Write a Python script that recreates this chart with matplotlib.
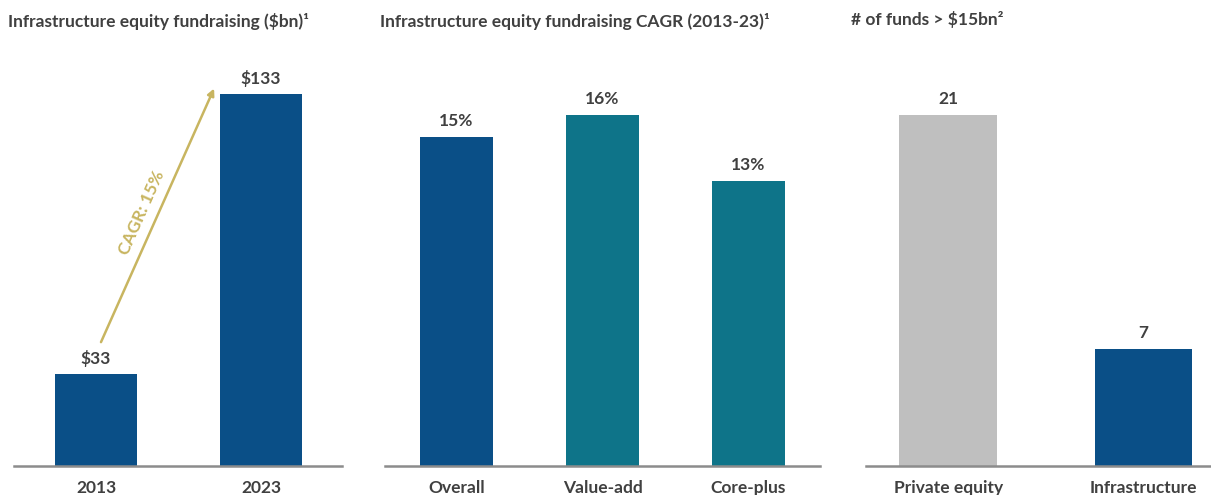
import matplotlib.pyplot as plt

plt.rcParams['font.family'] = ['Lato', 'DejaVu Sans']

# data
years = ["2013", "2023"]
fundraising = [33, 133]
fund_labels = ["$33", "$133"]

strategies = ["Overall", "Value-add", "Core-plus"]
cagr = [15, 16, 13]

fund_types = ["Private equity", "Infrastructure"]
n_funds = [21, 7]

BLUE = "#0A4F87"
TEAL = "#0E7489"
GREY = "#BFBFBF"
GOLD = "#C8B560"
TXT = "#404040"

W, H = 1211, 495
fig = plt.figure(figsize=(W / 100, H / 100), dpi=100)


def add_ax(x0, x1):
    bottom = (H - 466) / H
    height = (466 - 60) / H
    return fig.add_axes([x0 / W, bottom, (x1 - x0) / W, height])


def style(ax, labels):
    for s in ["top", "right", "left"]:
        ax.spines[s].set_visible(False)
    ax.spines["bottom"].set_color("#8C8C8C")
    ax.spines["bottom"].set_linewidth(1.8)
    ax.set_yticks([])
    ax.set_xticks(range(len(labels)))
    ax.set_xticklabels(labels, fontsize=12.5, fontweight="bold", color=TXT)
    ax.tick_params(axis="x", length=0, pad=10)


# panel 1
ax1 = add_ax(14, 342)
ax1.bar(range(2), fundraising, width=0.5, color=BLUE)
ax1.set_xlim(-0.497, 1.49)
ax1.set_ylim(0, 145.2)
style(ax1, years)
for i, v in enumerate(fundraising):
    ax1.text(i, v + 2.5, fund_labels[i], ha="center", va="bottom",
             fontsize=12.5, fontweight="bold", color=TXT)
ax1.annotate("", xy=(0.715, 135), xytext=(0.03, 44.3),
             arrowprops=dict(arrowstyle="-|>", color=GOLD, lw=1.8,
                             mutation_scale=10, shrinkA=0, shrinkB=0),
             annotation_clip=False)
ax1.text(0.28, 90.5, "CAGR: 15%", rotation=66, rotation_mode="anchor",
         ha="center", va="center", fontsize=12.5, fontweight="bold", color=GOLD)

# panel 2
ax2 = add_ax(385, 820)
ax2.bar(range(3), cagr, width=0.5, color=[BLUE, TEAL, TEAL])
ax2.set_xlim(-0.49, 2.49)
ax2.set_ylim(0, 18.5)
style(ax2, strategies)
for i, v in enumerate(cagr):
    ax2.text(i, v + 0.35, f"{v}%", ha="center", va="bottom",
             fontsize=12.5, fontweight="bold", color=TXT)

# panel 3
ax3 = add_ax(866, 1211)
ax3.bar(range(2), n_funds, width=0.5, color=[GREY, BLUE])
ax3.set_xlim(-0.42, 1.345)
ax3.set_ylim(0, 24.3)
style(ax3, fund_types)
for i, v in enumerate(n_funds):
    ax3.text(i, v + 0.5, str(v), ha="center", va="bottom",
             fontsize=12.5, fontweight="bold", color=TXT)

# titles
fig.text(8 / W, 1 - 22 / H, "Infrastructure equity fundraising ($bn)\u00b9",
         fontsize=12.5, fontweight="bold", color=TXT, va="center")
fig.text(380 / W, 1 - 22 / H, "Infrastructure equity fundraising CAGR (2013-23)\u00b9",
         fontsize=12.5, fontweight="bold", color=TXT, va="center")
fig.text(851 / W, 1 - 20 / H, "# of funds > $15bn\u00b2",
         fontsize=12.5, fontweight="bold", color=TXT, va="center")

fig.savefig("out.png", dpi=100)
